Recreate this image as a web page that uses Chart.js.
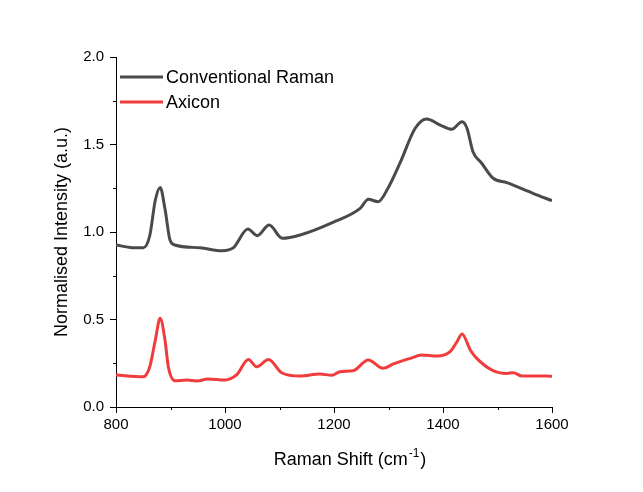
<!DOCTYPE html>
<html>
<head>
<meta charset="utf-8">
<script src="https://cdn.jsdelivr.net/npm/chart.js@4/dist/chart.umd.min.js"></script>
<style>
  html, body { margin: 0; padding: 0; background: #fff; }
  #wrap { width: 643px; height: 492px; }
</style>
</head>
<body>
<div id="wrap"><canvas id="ramanchart" width="643" height="492"></canvas></div>
<script>
// Raman shift (cm-1) and normalised intensities
var convShift = [800, 826, 850, 862, 872, 881, 890, 899, 908, 954, 995, 1015, 1042, 1059, 1081, 1105, 1138, 1198, 1248, 1263, 1281, 1299, 1321, 1349, 1370, 1395, 1416, 1435, 1444, 1455, 1471, 1492, 1517, 1565, 1600];
var convIntensity = [0.926, 0.912, 0.910, 0.98, 1.18, 1.255, 1.13, 0.955, 0.926, 0.91, 0.893, 0.909, 1.017, 0.979, 1.04, 0.964, 0.983, 1.055, 1.135, 1.187, 1.173, 1.25, 1.393, 1.593, 1.646, 1.611, 1.587, 1.630, 1.593, 1.459, 1.393, 1.307, 1.282, 1.221, 1.179];

var axiconShift = [800, 850, 862, 872, 881, 890, 896, 908, 930, 948, 969, 1000, 1021, 1043, 1058, 1080, 1104, 1138, 1174, 1196, 1211, 1235, 1263, 1290, 1309, 1340, 1361, 1389, 1413, 1425, 1435, 1450, 1462, 1490, 1517, 1529, 1545, 1591, 1600];
var axiconIntensity = [0.183, 0.173, 0.23, 0.38, 0.507, 0.38, 0.23, 0.15, 0.154, 0.149, 0.16, 0.154, 0.183, 0.272, 0.23, 0.272, 0.196, 0.177, 0.189, 0.181, 0.202, 0.207, 0.269, 0.221, 0.246, 0.278, 0.297, 0.291, 0.316, 0.37, 0.417, 0.326, 0.278, 0.211, 0.192, 0.196, 0.177, 0.177, 0.175];

var seriesNames = ["Conventional Raman", "Axicon"];
var xTicks = [800, 1000, 1200, 1400, 1600];
var xMinorTicks = [900, 1100, 1300, 1500];
var yTicks = [0.0, 0.5, 1.0, 1.5, 2.0];
var yMinorTicks = [0.25, 0.75, 1.25, 1.75];

var FONT = "'Liberation Sans', Arial, sans-serif";

function toPoints(xs, ys) {
  var pts = [];
  for (var i = 0; i < xs.length; i++) pts.push({ x: xs[i], y: ys[i] });
  return pts;
}

// minor ticks, axis titles and the in-plot legend
var extras = {
  id: 'extras',
  afterDraw: function (chart) {
    var c = chart.ctx;
    var xs = chart.scales.x, ys = chart.scales.y;
    c.save();
    c.strokeStyle = '#000';
    c.lineWidth = 1;
    xMinorTicks.forEach(function (v) {
      var px = Math.round(xs.getPixelForValue(v)) + 0.5;
      c.beginPath(); c.moveTo(px, ys.bottom); c.lineTo(px, ys.bottom + 3); c.stroke();
    });
    yMinorTicks.forEach(function (v) {
      var py = Math.round(ys.getPixelForValue(v)) + 0.5;
      c.beginPath(); c.moveTo(xs.left, py); c.lineTo(xs.left - 3, py); c.stroke();
    });

    // x title with superscript
    c.fillStyle = '#000';
    c.textBaseline = 'alphabetic';
    c.textAlign = 'left';
    c.font = '18px ' + FONT;
    var t1 = 'Raman Shift (cm', t2 = '-1', t3 = ')';
    var w1 = c.measureText(t1).width;
    c.font = '12px ' + FONT;
    var w2 = c.measureText(t2).width;
    c.font = '18px ' + FONT;
    var w3 = c.measureText(t3).width;
    var x0 = 350 - (w1 + w2 + w3 + 2) / 2;
    var base = 465;
    c.fillText(t1, x0, base);
    c.font = '12px ' + FONT;
    c.fillText(t2, x0 + w1 + 1, base - 8);
    c.font = '18px ' + FONT;
    c.fillText(t3, x0 + w1 + w2 + 2, base);

    // y title
    c.save();
    c.translate(67, (ys.top + ys.bottom) / 2);
    c.rotate(-Math.PI / 2);
    c.textAlign = 'center';
    c.fillText('Normalised Intensity (a.u.)', 0, 0);
    c.restore();

    // legend
    chart.data.datasets.forEach(function (ds, i) {
      var ly = 77 + i * 25;
      c.strokeStyle = ds.borderColor;
      c.lineWidth = 3;
      c.beginPath(); c.moveTo(120, ly); c.lineTo(163, ly); c.stroke();
      c.fillStyle = '#000';
      c.textBaseline = 'middle';
      c.textAlign = 'left';
      c.font = '18px ' + FONT;
      c.fillText(ds.label, 166, ly + 1);
    });
    c.restore();
  }
};

var ctx = document.getElementById("ramanchart").getContext('2d');
var ramanChart = new Chart(ctx, {
  type: 'line',
  data: {
    datasets: [{
      label: seriesNames[0],
      data: toPoints(convShift, convIntensity),
      borderColor: 'rgb(74,74,74)',
      borderWidth: 3,
      pointRadius: 0,
      cubicInterpolationMode: 'monotone',
      fill: false
    }, {
      label: seriesNames[1],
      data: toPoints(axiconShift, axiconIntensity),
      borderColor: 'rgb(240,60,60)',
      borderWidth: 3,
      pointRadius: 0,
      cubicInterpolationMode: 'monotone',
      fill: false
    }]
  },
  options: {
    responsive: false,
    animation: false,
    events: [],
    layout: { padding: { left: 0, top: 57, right: 91, bottom: 0 } },
    plugins: { legend: { display: false }, tooltip: { enabled: false } },
    scales: {
      x: {
        type: 'linear',
        min: 800, max: 1600,
        afterBuildTicks: function (s) { s.ticks = xTicks.map(function (v) { return { value: v }; }); },
        afterFit: function (s) { s.height = 85; },
        ticks: { color: '#000', font: { family: FONT, size: 15 }, padding: 3, maxRotation: 0,
          callback: function (v) { return String(v); } },
        grid: { drawOnChartArea: false, drawTicks: true, tickLength: 6, color: '#000' },
        border: { display: true, color: '#000', width: 1 }
      },
      y: {
        min: 0, max: 2,
        afterBuildTicks: function (s) { s.ticks = yTicks.map(function (v) { return { value: v }; }); },
        afterFit: function (s) { s.width = 116; },
        ticks: { color: '#000', font: { family: FONT, size: 15 }, padding: 6,
          callback: function (v) { return v.toFixed(1); } },
        grid: { drawOnChartArea: false, drawTicks: true, tickLength: 6, color: '#000' },
        border: { display: true, color: '#000', width: 1 }
      }
    }
  },
  plugins: [extras]
});
</script>
</body>
</html>
